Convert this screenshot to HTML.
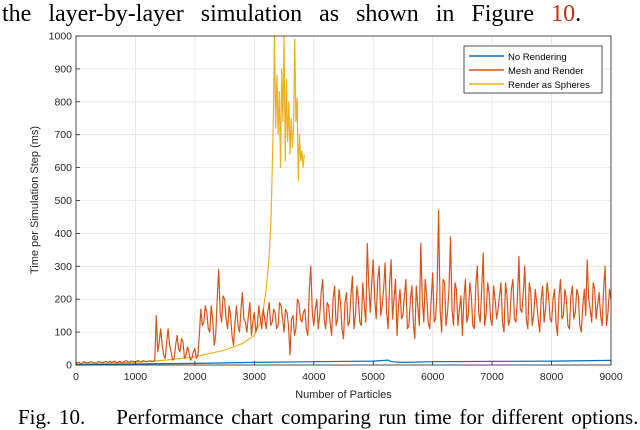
<!DOCTYPE html>
<html><head><meta charset="utf-8">
<style>
html,body{margin:0;padding:0;background:#fff;width:640px;height:430px;overflow:hidden}
.serif{font-family:"Liberation Serif",serif}
</style></head>
<body>
<svg id="chart" width="640" height="430" viewBox="0 0 640 430" xmlns="http://www.w3.org/2000/svg">
<text x="2" y="21" class="serif" font-size="24" fill="#000" word-spacing="11">the layer-by-layer simulation as shown in Figure <tspan fill="#c0300a">10</tspan>.</text>
<text x="18" y="424" class="serif" font-size="21" fill="#000" xml:space="preserve" word-spacing="2.5">Fig. 10.    Performance chart comparing run time for different options.</text>
<g id="grid"></g>
<g id="series"></g>
<g id="axes"></g>
<text x="343.5" y="398" text-anchor="middle" font-family="Liberation Sans, sans-serif" font-size="11" fill="#262626">Number of Particles</text>
<text transform="translate(38,200) rotate(-90)" text-anchor="middle" font-family="Liberation Sans, sans-serif" font-size="11" fill="#262626">Time per Simulation Step (ms)</text>
<g>
<rect x="464" y="46" width="138" height="47" fill="#fff" stroke="#262626" stroke-width="0.8"/>
<line x1="469" y1="56" x2="504" y2="56" stroke="#0072BD" stroke-width="1.5"/>
<text x="508" y="60" font-family="Liberation Sans, sans-serif" font-size="9.5" fill="#000">No Rendering</text>
<line x1="469" y1="70" x2="504" y2="70" stroke="#D95319" stroke-width="1.5"/>
<text x="508" y="74" font-family="Liberation Sans, sans-serif" font-size="9.5" fill="#000">Mesh and Render</text>
<line x1="469" y1="84" x2="504" y2="84" stroke="#EDB120" stroke-width="1.5"/>
<text x="508" y="88" font-family="Liberation Sans, sans-serif" font-size="9.5" fill="#000">Render as Spheres</text>
</g>
</svg>
<script>
const xTicks=[0,1000,2000,3000,4000,5000,6000,7000,8000,9000];
const yTicks=[0,100,200,300,400,500,600,700,800,900,1000];
const meshStep=50;
const meshValues=[5,8,4,9,6,10,7,5,9,6,
11,8,7,12,6,10,9,13,8,11,
10,14,9,12,10,13,11,150,70,60,
20,110,40,20,90,40,70,30,40,20,
50,30,170,130,160,100,140,90,290,130,
200,110,150,60,180,100,220,130,150,90,
160,120,140,170,110,190,130,160,120,180,
100,160,30,150,110,190,130,170,90,300,
120,200,150,260,110,180,90,240,140,190,
80,220,130,270,150,200,120,180,370,160,
320,140,300,180,310,110,320,200,90,230,
150,260,120,240,80,180,370,130,210,110,
280,140,470,100,250,160,390,120,230,170,
90,260,150,210,110,300,130,340,160,220,
120,200,170,250,100,210,140,260,130,330,
160,300,110,220,150,190,100,240,170,210,
130,230,90,260,150,200,110,240,160,210,
100,230,320,170,250,140,220,120,300,160,
200];
const meshMidValues=[7,5,10,6,8,9,6,11,7,9,
9,12,10,8,11,7,12,9,12,10,
12,10,13,11,12,10,14,40,110,30,
70,60,15,60,50,80,20,55,15,40,
20,90,120,180,110,180,60,200,160,210,
140,180,90,130,120,170,140,100,190,130,
100,180,110,140,160,120,170,110,190,140,
170,120,140,90,200,140,160,110,230,160,
170,110,220,140,190,130,200,120,230,110,
190,120,210,110,240,130,250,130,240,250,
200,260,150,230,160,250,140,260,180,140,
210,110,200,130,240,120,200,260,130,200,
130,230,170,260,120,230,170,250,120,210,
200,130,250,120,240,160,230,120,250,140,
240,140,210,130,250,120,230,140,200,170,
220,140,250,120,230,140,200,130,250,140,
200,130,210,140,230,120,210,140,230,120,
180,150,200,130,230,180,150,230,120,230];
const sphereX=[0,500,1000,1500,2000,2500,2800,3000,3100,3150,3200,3250,3280,3300,3320,3340,3360,3380,3400,3420,3440,3460,3480,3500,3520,3540,3560,3580,3600,3620,3640,3660,3680,3700,3720,3740,3760,3780,3800,3820,3840];
const sphereY=[3,5,8,15,25,45,65,90,130,170,230,330,440,590,750,1000,720,880,700,830,600,900,740,1000,620,870,680,800,640,750,660,730,990,740,810,560,700,620,650,600,640];
const noRenderX=[0,1000,2000,3000,4000,5000,5250,5300,5500,6000,7000,8000,9000];
const noRenderY=[0,3,5,8,10,12,15,10,8,10,11,12,14];

const L=76,R=611,T=36,B=365;
const sx=v=>L+(v/9000)*(R-L);
const sy=v=>B-(Math.min(v,1000)/1000)*(B-T);
const NS="http://www.w3.org/2000/svg";
function mk(tag,attrs,parent){const e=document.createElementNS(NS,tag);for(const k in attrs)e.setAttribute(k,attrs[k]);parent.appendChild(e);return e;}
const grid=document.getElementById('grid'),axes=document.getElementById('axes'),series=document.getElementById('series');
xTicks.forEach(t=>{
  const g=mk('line',{x1:sx(t),x2:sx(t),y1:T,y2:B,stroke:'#e3e3e3','stroke-width':0.8},grid);
  
  
  const tk=mk('line',{x1:sx(t),x2:sx(t),y1:B,y2:B-4,stroke:'#262626','stroke-width':0.8},axes);
  
  
  const lb=mk('text',{x:sx(t),y:B+15,'text-anchor':'middle','font-family':'Liberation Sans, sans-serif','font-size':10.5,fill:'#262626'},axes);
  lb.textContent=t;
  
  
});
yTicks.forEach(t=>{
  const g=mk('line',{x1:L,x2:R,y1:sy(t),y2:sy(t),stroke:'#e3e3e3','stroke-width':0.8},grid);
  
  
  const tk=mk('line',{x1:L,x2:L+4,y1:sy(t),y2:sy(t),stroke:'#262626','stroke-width':0.8},axes);
  
  
  const lb=mk('text',{x:L-4,y:sy(t)+3.5,'text-anchor':'end','font-family':'Liberation Sans, sans-serif','font-size':10.5,fill:'#262626'},axes);
  lb.textContent=t;
  
  
});
const box=mk('rect',{x:L,y:T,width:R-L,height:B-T,fill:'none',stroke:'#262626','stroke-width':0.8},axes);


function line(xs,ys,color,name){
  const d=xs.map((x,i)=>(i?'L':'M')+sx(x).toFixed(1)+' '+sy(ys[i]).toFixed(1)).join(' ');
  const p=mk('path',{d:d,fill:'none',stroke:color,'stroke-width':1.2,'stroke-linejoin':'round'},series);
  
  
}
const meshX=[],meshY=[];
meshValues.forEach((v,i)=>{
  meshX.push(i*meshStep);meshY.push(v);
  if(i<meshMidValues.length){meshX.push(i*meshStep+meshStep/2);meshY.push(meshMidValues[i]);}
});
line(sphereX,sphereY,'#EDB120','render-as-spheres-line');
line(meshX,meshY,'#D95319','mesh-and-render-line');
line(noRenderX,noRenderY,'#0072BD','no-rendering-line');
</script>
</body></html>
